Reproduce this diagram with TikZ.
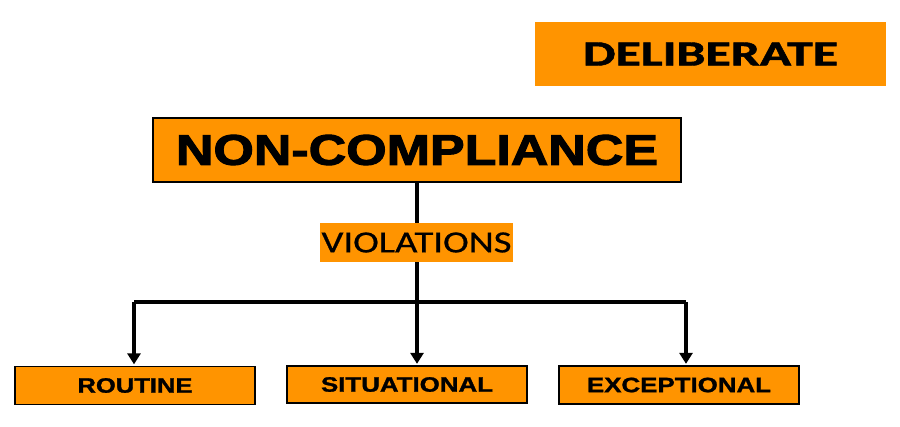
\documentclass[tikz,border=0pt]{standalone}
\usepackage{fontspec}
\usepackage{graphicx}
\setmainfont{Liberation Sans}
\newfontfamily\calfont{Carlito}[FakeBold=0.6]
\newfontfamily\calbold{Carlito Bold}[FakeBold=1.2]
\newfontfamily\heavyfont{Liberation Sans Bold}[FakeBold=2.2]
\newfontfamily\smallbold{Liberation Sans Bold}[FakeBold=1.2]
\usetikzlibrary{arrows.meta}
\definecolor{boxorange}{HTML}{FF9400}
\tikzset{
  obox/.style={fill=boxorange, draw=black, line width=1.3pt, inner sep=0pt, anchor=center},
  plainbox/.style={fill=boxorange, draw=none, inner sep=0pt, anchor=center},
  conn/.style={line width=3.4pt, draw=black},
  arr/.style={conn, -{Triangle[width=13pt,length=11pt]}, shorten >=1.5pt},
}
\begin{document}
\begin{tikzpicture}[x=1pt,y=1pt]
\useasboundingbox (0,0) rectangle (900,-426);
% top right
\node[plainbox, minimum width=351pt, minimum height=64pt] (delib) at (710.5,-54)
  {\resizebox{255pt}{23pt}{\calbold DELIBERATE}};
% main box
\node[obox, minimum width=528pt, minimum height=64pt] (nonc) at (417,-150)
  {\resizebox{482pt}{30pt}{\heavyfont NON-COMPLIANCE}};
% violations
\node[plainbox, minimum width=193pt, minimum height=39pt] (viol) at (416.5,-242.5)
  {\resizebox{190pt}{20pt}{\calfont VIOLATIONS}};
% bottom boxes
\node[obox, minimum width=240pt, minimum height=38pt] (rout) at (135,-385.5)
  {\resizebox{115pt}{14.5pt}{\smallbold ROUTINE}};
\node[obox, minimum width=240pt, minimum height=37pt] (sit) at (407,-384.5)
  {\resizebox{172pt}{14.5pt}{\smallbold SITUATIONAL}};
\node[obox, minimum width=240pt, minimum height=38pt] (exc) at (679,-385)
  {\resizebox{184pt}{14.5pt}{\smallbold EXCEPTIONAL}};
% connectors
\coordinate (hl) at (134,-302);
\coordinate (hr) at (686,-302);
\coordinate (top) at (417,-182);
\draw[conn] (top) -- (top |- viol.north);
\draw[arr] (top |- viol.south) -- (top |- sit.north);
\draw[conn] (hl) -- (hr);
\draw[arr] (hl) -- (hl |- rout.north);
\draw[arr] (hr) -- (hr |- exc.north);
\end{tikzpicture}
\end{document}
